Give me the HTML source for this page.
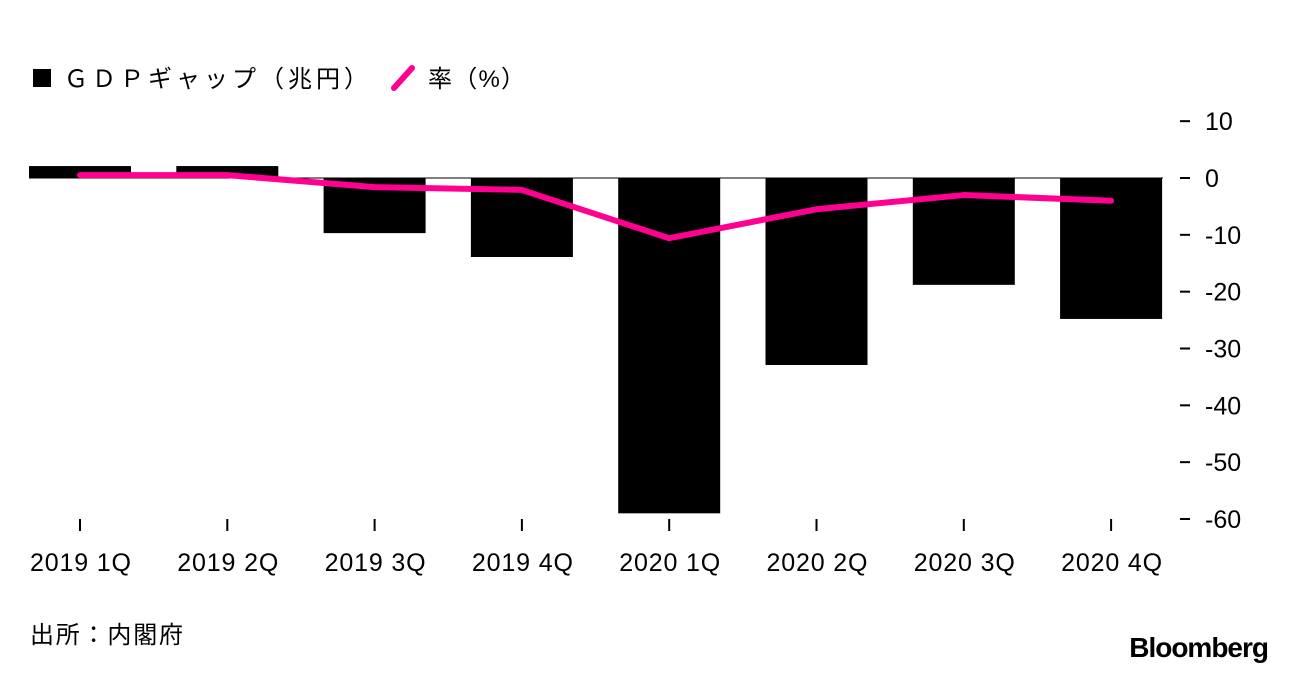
<!DOCTYPE html>
<html><head><meta charset="utf-8"><style>
body{margin:0;background:#fff;width:1296px;height:674px;overflow:hidden;font-family:"Liberation Sans","Noto Sans CJK JP",sans-serif;}
svg text{font-family:"Liberation Sans","Noto Sans CJK JP",sans-serif;}
</style></head><body>
<svg width="1296" height="674">
<g>
<rect x="33" y="69" width="18" height="18" fill="#000"/>
<text x="64" y="87" font-size="24" textLength="304" lengthAdjust="spacing">ＧＤＰギャップ（兆円）</text>
<line x1="394" y1="88" x2="412" y2="68" stroke="#ff0090" stroke-width="6" stroke-linecap="round"/>
<text x="428" y="87" font-size="24" textLength="97" lengthAdjust="spacing">率（%）</text>
</g>
<g id="chart"></g>
<text x="30" y="643" font-size="24" textLength="153" lengthAdjust="spacing">出所：内閣府</text>
<text x="1268" y="657" font-size="28" font-weight="bold" text-anchor="end" letter-spacing="-1">Bloomberg</text>
</svg>
<script>
const categories=["2019 1Q","2019 2Q","2019 3Q","2019 4Q","2020 1Q","2020 2Q","2020 3Q","2020 4Q"];
const gapValues=[2.1,2.1,-9.7,-13.9,-59,-32.9,-18.8,-24.8];
const rateValues=[0.5,0.5,-1.6,-2.1,-10.6,-5.5,-3.0,-4.0];
const yTicks=[10,0,-10,-20,-30,-40,-50,-60];
const NS="http://www.w3.org/2000/svg";
const g=document.getElementById('chart');
function y(v){return 178-(v*341/60);}
function x(i){return 80+i*147.3;}
function mk(t,a){const e=document.createElementNS(NS,t);for(const k in a)e.setAttribute(k,a[k]);g.appendChild(e);return e;}
yTicks.forEach(v=>{
 const l=mk('line',{x1:1180,x2:1190,y1:y(v),y2:y(v),stroke:'#000','stroke-width':2});
 
 
 const t=mk('text',{x:1205,y:y(v)+9,'font-size':25});
 t.textContent=v;
 
 
});
gapValues.forEach((v,i)=>{
 const r=mk('rect',{x:x(i)-51,width:102,y:Math.min(y(v),y(0)),height:Math.abs(y(v)-y(0)),fill:'#000'});
 
 
});
const z=mk('line',{x1:29,x2:1163,y1:y(0),y2:y(0),stroke:'#000','stroke-width':1});


categories.forEach((c,i)=>{
 const l=mk('line',{x1:x(i),x2:x(i),y1:519,y2:531,stroke:'#000','stroke-width':2});
 
 
 const t=mk('text',{x:x(i)-50,y:571,'font-size':25,textLength:101,lengthAdjust:'spacing'});
 t.textContent=c;
 
 
});
const p=mk('polyline',{points:rateValues.map((v,i)=>x(i)+','+y(v)).join(' '),fill:'none',stroke:'#ff0090','stroke-width':6,'stroke-linejoin':'round','stroke-linecap':'round'});


</script>
</body></html>
